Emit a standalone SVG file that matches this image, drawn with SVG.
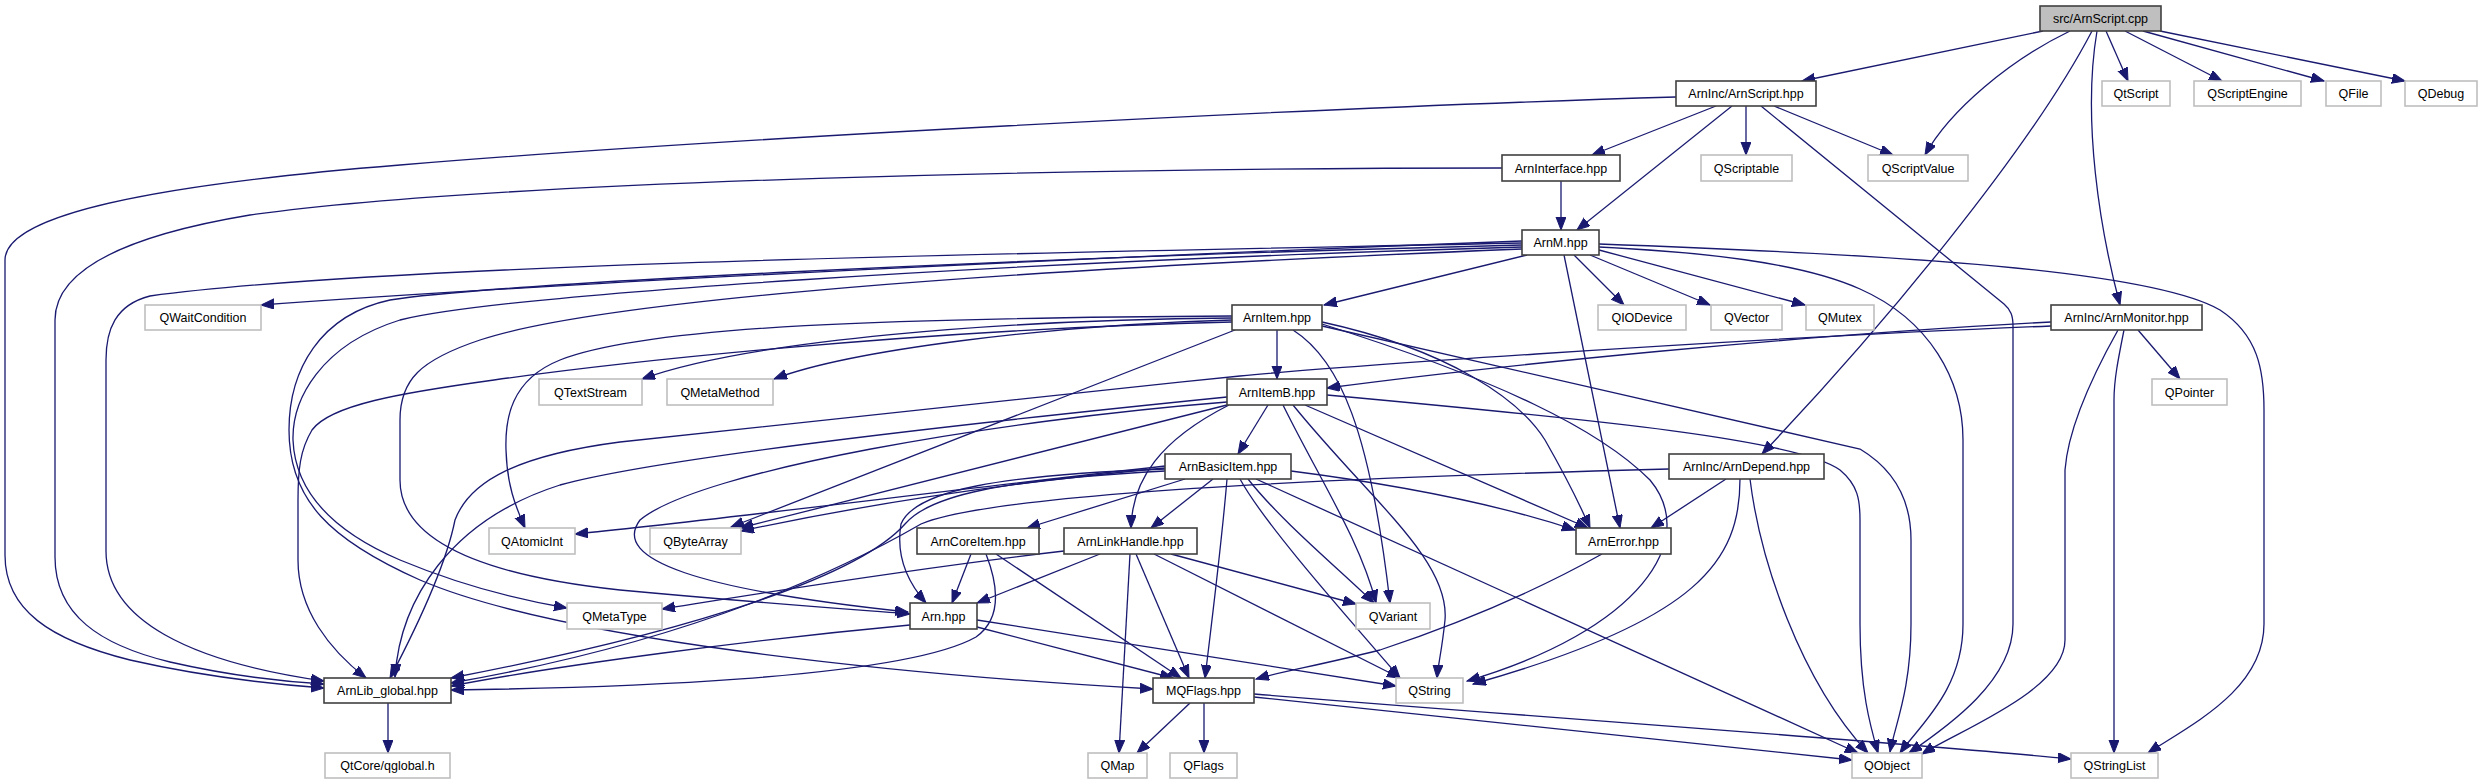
<svg xmlns="http://www.w3.org/2000/svg" width="2483" height="784" viewBox="0 0 2483 784">
<style>
.bg{fill:#ffffff}
.doc{fill:#ffffff;stroke:#404040;stroke-width:1.6}
.ext{fill:#ffffff;stroke:#bfbfbf;stroke-width:1.6}
.root{fill:#bfbfbf;stroke:#404040;stroke-width:1.6}
text{font-family:"Liberation Sans",Arial,Helvetica,sans-serif;font-size:12.5px;fill:#000000;text-anchor:middle}
.e path{fill:none;stroke:#191970;stroke-width:1.3;marker-end:url(#ah)}
</style>
<defs>
<marker id="ah" markerUnits="userSpaceOnUse" markerWidth="14" markerHeight="11" refX="13" refY="5" orient="auto">
<path d="M0,0 L13,5 L0,10 z" fill="#191970" stroke="#191970" stroke-width="1"/>
</marker>
</defs>
<rect class="bg" x="0" y="0" width="2483" height="784"/>
<g id="connectors" class="e">
<path d="M2043,31 L1802,81"/>
<path d="M2070,31 C2010,60 1950,110 1925,155"/>
<path d="M2092,31 C2030,150 1880,330 1762,454"/>
<path d="M2097,31 C2082,120 2100,230 2120,305"/>
<path d="M2106,31 L2128,81"/>
<path d="M2125,31 L2222,81"/>
<path d="M2143,31 L2324,81"/>
<path d="M2160,31 L2405,81"/>
<path d="M1676,97 C1300,108 700,140 400,165 C150,185 5,215 5,260 L5,555 C5,610 50,640 130,660 C200,676 270,684 324,688"/>
<path d="M1716,106 L1592,155"/>
<path d="M1732,106 L1577,230"/>
<path d="M1746,106 L1746,155"/>
<path d="M1774,106 L1893,155"/>
<path d="M1761,106 L2004,304 C2011,310 2013,316 2013,326 L2013,624 C2013,680 1950,725 1909,753"/>
<path d="M1561,181 L1561,230"/>
<path d="M1502,168 C1100,168 500,180 250,215 C100,240 55,280 55,320 L55,557 C55,615 100,645 170,662 C240,678 290,682 324,684"/>
<path d="M1522,241 C1150,255 600,280 261,305"/>
<path d="M1522,243 C1100,252 400,262 150,296 C115,305 106,330 106,360 L106,551 C106,620 190,662 324,681"/>
<path d="M1522,245 C1000,258 480,285 390,300 C320,315 289,370 289,430 C289,500 330,540 420,580 C560,640 900,675 1153,689"/>
<path d="M1522,247 C1000,262 500,295 400,320 C320,345 292,400 293,440 C295,490 330,530 400,560 C460,585 520,600 567,608"/>
<path d="M1522,249 C1000,270 600,300 480,340 C420,360 400,380 400,420 L400,480 C400,540 480,575 620,590 C760,603 860,610 910,614"/>
<path d="M1527,255 L1324,305"/>
<path d="M1564,255 L1620,528"/>
<path d="M1574,255 L1624,305"/>
<path d="M1590,255 L1710,305"/>
<path d="M1599,250 L1805,305"/>
<path d="M1599,247 C1700,252 1800,262 1860,289 C1930,320 1963,380 1963,440 L1963,624 C1963,690 1920,725 1900,753"/>
<path d="M1599,244 C1900,255 2150,270 2220,310 C2258,335 2264,370 2264,410 L2264,624 C2264,690 2190,725 2148,753"/>
<path d="M1232,318 C1000,320 750,340 642,379"/>
<path d="M1232,320 C1050,325 850,350 774,379"/>
<path d="M1232,316 C900,318 650,325 560,360 C510,380 505,420 506,450 C507,485 515,505 525,528"/>
<path d="M1232,322 C900,330 600,365 494,380 C400,393 330,405 312,430 C300,450 298,470 298,500 L298,560 C298,610 330,650 366,678"/>
<path d="M1235,330 L731,527"/>
<path d="M1277,330 L1277,379"/>
<path d="M1293,330 C1340,360 1370,430 1390,603"/>
<path d="M1322,322 C1450,350 1520,400 1545,440 C1565,475 1580,505 1590,528"/>
<path d="M1322,324 C1500,380 1600,430 1650,480 C1700,540 1640,630 1467,681"/>
<path d="M1322,326 L1860,449 C1895,470 1911,500 1911,540 L1911,624 C1911,690 1895,725 1890,752"/>
<path d="M1268,405 L1238,454"/>
<path d="M1229,405 C1160,440 1132,480 1131,528"/>
<path d="M1227,402 C1000,420 700,470 640,520 C610,560 700,590 908,612"/>
<path d="M1227,397 C900,430 650,460 560,485 C450,520 400,600 395,677"/>
<path d="M1227,405 L740,528"/>
<path d="M1283,405 C1320,480 1360,540 1376,603"/>
<path d="M1293,405 C1370,500 1450,560 1445,620 C1442,650 1438,665 1437,678"/>
<path d="M1305,405 L1588,528"/>
<path d="M1327,395 C1600,420 1800,440 1840,470 C1858,485 1860,500 1860,520 L1860,624 C1860,690 1870,725 1878,753"/>
<path d="M2051,322 C1800,335 1500,365 1327,388"/>
<path d="M2051,326 C1700,340 1300,370 1240,376 C1000,400 750,430 620,442 C520,455 470,480 455,520 C445,570 410,640 390,678"/>
<path d="M2138,330 L2180,379"/>
<path d="M2118,330 C2090,380 2068,430 2065,470 L2065,640 C2065,690 1960,730 1922,754"/>
<path d="M2124,330 C2118,360 2114,380 2114,400 L2114,753"/>
<path d="M1165,466 C950,490 700,522 575,534"/>
<path d="M1165,468 C980,485 830,512 741,531"/>
<path d="M1165,471 C1000,480 930,495 905,524 C860,575 700,630 451,678"/>
<path d="M1165,469 C1000,475 915,490 901,524 C895,560 910,585 926,603"/>
<path d="M1185,479 L1027,528"/>
<path d="M1213,479 L1151,528"/>
<path d="M1227,479 C1222,540 1212,620 1205,678"/>
<path d="M1291,471 C1400,485 1500,505 1575,530"/>
<path d="M1248,479 C1280,520 1340,570 1374,603"/>
<path d="M1240,479 C1265,525 1350,620 1400,678"/>
<path d="M1256,479 L1858,753"/>
<path d="M1669,469 C1400,476 1000,490 921,524 C850,565 700,640 451,683"/>
<path d="M1726,479 L1651,528"/>
<path d="M1740,479 C1740,560 1700,620 1473,684"/>
<path d="M1750,479 C1760,560 1800,680 1868,753"/>
<path d="M971,554 L952,603"/>
<path d="M996,554 L1181,678"/>
<path d="M986,554 C1000,590 1000,620 976,637 C900,680 600,688 451,690"/>
<path d="M1064,551 C900,570 750,595 662,609"/>
<path d="M1100,554 L977,603"/>
<path d="M1130,554 L1119,753"/>
<path d="M1136,554 L1189,678"/>
<path d="M1154,554 L1400,678"/>
<path d="M1171,554 L1356,604"/>
<path d="M910,625 C750,640 560,665 451,686"/>
<path d="M977,627 L1173,678"/>
<path d="M977,620 C1100,640 1300,670 1396,686"/>
<path d="M1602,554 C1520,600 1440,630 1380,650 C1320,665 1280,672 1256,679"/>
<path d="M1190,703 L1137,753"/>
<path d="M1204,703 L1204,753"/>
<path d="M1254,697 L1852,760"/>
<path d="M1254,694 C1600,722 1900,742 2071,759"/>
<path d="M388,703 L388,753"/>
</g>
<g id="n_src"><rect class="root" x="2040" y="6" width="121" height="25"/><text x="2100.5" y="23">src/ArnScript.cpp</text></g>
<g id="n_arnscript_hpp"><rect class="doc" x="1676" y="81" width="140" height="25"/><text x="1746" y="98">ArnInc/ArnScript.hpp</text></g>
<g id="n_qtscript"><rect class="ext" x="2102" y="81" width="68" height="25"/><text x="2136" y="98">QtScript</text></g>
<g id="n_qscriptengine"><rect class="ext" x="2194" y="81" width="107" height="25"/><text x="2247.5" y="98">QScriptEngine</text></g>
<g id="n_qfile"><rect class="ext" x="2326" y="81" width="55" height="25"/><text x="2353.5" y="98">QFile</text></g>
<g id="n_qdebug"><rect class="ext" x="2405" y="81" width="72" height="25"/><text x="2441" y="98">QDebug</text></g>
<g id="n_arninterface"><rect class="doc" x="1502" y="155" width="118" height="26"/><text x="1561" y="172.5">ArnInterface.hpp</text></g>
<g id="n_qscriptable"><rect class="ext" x="1701" y="155" width="91" height="26"/><text x="1746.5" y="172.5">QScriptable</text></g>
<g id="n_qscriptvalue"><rect class="ext" x="1868" y="155" width="100" height="26"/><text x="1918" y="172.5">QScriptValue</text></g>
<g id="n_arnm"><rect class="doc" x="1522" y="230" width="77" height="25"/><text x="1560.5" y="247">ArnM.hpp</text></g>
<g id="n_qwaitcondition"><rect class="ext" x="145" y="305" width="116" height="25"/><text x="203" y="322">QWaitCondition</text></g>
<g id="n_arnitem"><rect class="doc" x="1232" y="305" width="90" height="25"/><text x="1277" y="322">ArnItem.hpp</text></g>
<g id="n_qiodevice"><rect class="ext" x="1598" y="305" width="88" height="25"/><text x="1642" y="322">QIODevice</text></g>
<g id="n_qvector"><rect class="ext" x="1711" y="305" width="71" height="25"/><text x="1746.5" y="322">QVector</text></g>
<g id="n_qmutex"><rect class="ext" x="1806" y="305" width="68" height="25"/><text x="1840" y="322">QMutex</text></g>
<g id="n_arnmonitor"><rect class="doc" x="2051" y="305" width="151" height="25"/><text x="2126.5" y="322">ArnInc/ArnMonitor.hpp</text></g>
<g id="n_qtextstream"><rect class="ext" x="539" y="379" width="103" height="26"/><text x="590.5" y="396.5">QTextStream</text></g>
<g id="n_qmetamethod"><rect class="ext" x="667" y="379" width="106" height="26"/><text x="720" y="396.5">QMetaMethod</text></g>
<g id="n_arnitemb"><rect class="doc" x="1227" y="379" width="100" height="26"/><text x="1277" y="396.5">ArnItemB.hpp</text></g>
<g id="n_qpointer"><rect class="ext" x="2152" y="379" width="75" height="26"/><text x="2189.5" y="396.5">QPointer</text></g>
<g id="n_arnbasicitem"><rect class="doc" x="1165" y="454" width="126" height="25"/><text x="1228" y="471">ArnBasicItem.hpp</text></g>
<g id="n_arndepend"><rect class="doc" x="1669" y="454" width="155" height="25"/><text x="1746.5" y="471">ArnInc/ArnDepend.hpp</text></g>
<g id="n_qatomicint"><rect class="ext" x="489" y="528" width="86" height="26"/><text x="532" y="545.5">QAtomicInt</text></g>
<g id="n_qbytearray"><rect class="ext" x="650" y="528" width="91" height="26"/><text x="695.5" y="545.5">QByteArray</text></g>
<g id="n_arncoreitem"><rect class="doc" x="917" y="528" width="122" height="26"/><text x="978" y="545.5">ArnCoreItem.hpp</text></g>
<g id="n_arnlinkhandle"><rect class="doc" x="1064" y="528" width="133" height="26"/><text x="1130.5" y="545.5">ArnLinkHandle.hpp</text></g>
<g id="n_arnerror"><rect class="doc" x="1576" y="528" width="95" height="26"/><text x="1623.5" y="545.5">ArnError.hpp</text></g>
<g id="n_qmetatype"><rect class="ext" x="567" y="603" width="95" height="26"/><text x="614.5" y="620.5">QMetaType</text></g>
<g id="n_arn"><rect class="doc" x="910" y="603" width="67" height="26"/><text x="943.5" y="620.5">Arn.hpp</text></g>
<g id="n_qvariant"><rect class="ext" x="1356" y="603" width="74" height="26"/><text x="1393" y="620.5">QVariant</text></g>
<g id="n_arnlib_global"><rect class="doc" x="324" y="678" width="127" height="25"/><text x="387.5" y="695">ArnLib_global.hpp</text></g>
<g id="n_mqflags"><rect class="doc" x="1153" y="678" width="101" height="25"/><text x="1203.5" y="695">MQFlags.hpp</text></g>
<g id="n_qstring"><rect class="ext" x="1396" y="678" width="67" height="25"/><text x="1429.5" y="695">QString</text></g>
<g id="n_qglobal"><rect class="ext" x="325" y="753" width="125" height="25"/><text x="387.5" y="770">QtCore/qglobal.h</text></g>
<g id="n_qmap"><rect class="ext" x="1088" y="753" width="59" height="25"/><text x="1117.5" y="770">QMap</text></g>
<g id="n_qflags"><rect class="ext" x="1170" y="753" width="67" height="25"/><text x="1203.5" y="770">QFlags</text></g>
<g id="n_qobject"><rect class="ext" x="1852" y="753" width="70" height="25"/><text x="1887" y="770">QObject</text></g>
<g id="n_qstringlist"><rect class="ext" x="2071" y="753" width="87" height="25"/><text x="2114.5" y="770">QStringList</text></g>
</svg>
